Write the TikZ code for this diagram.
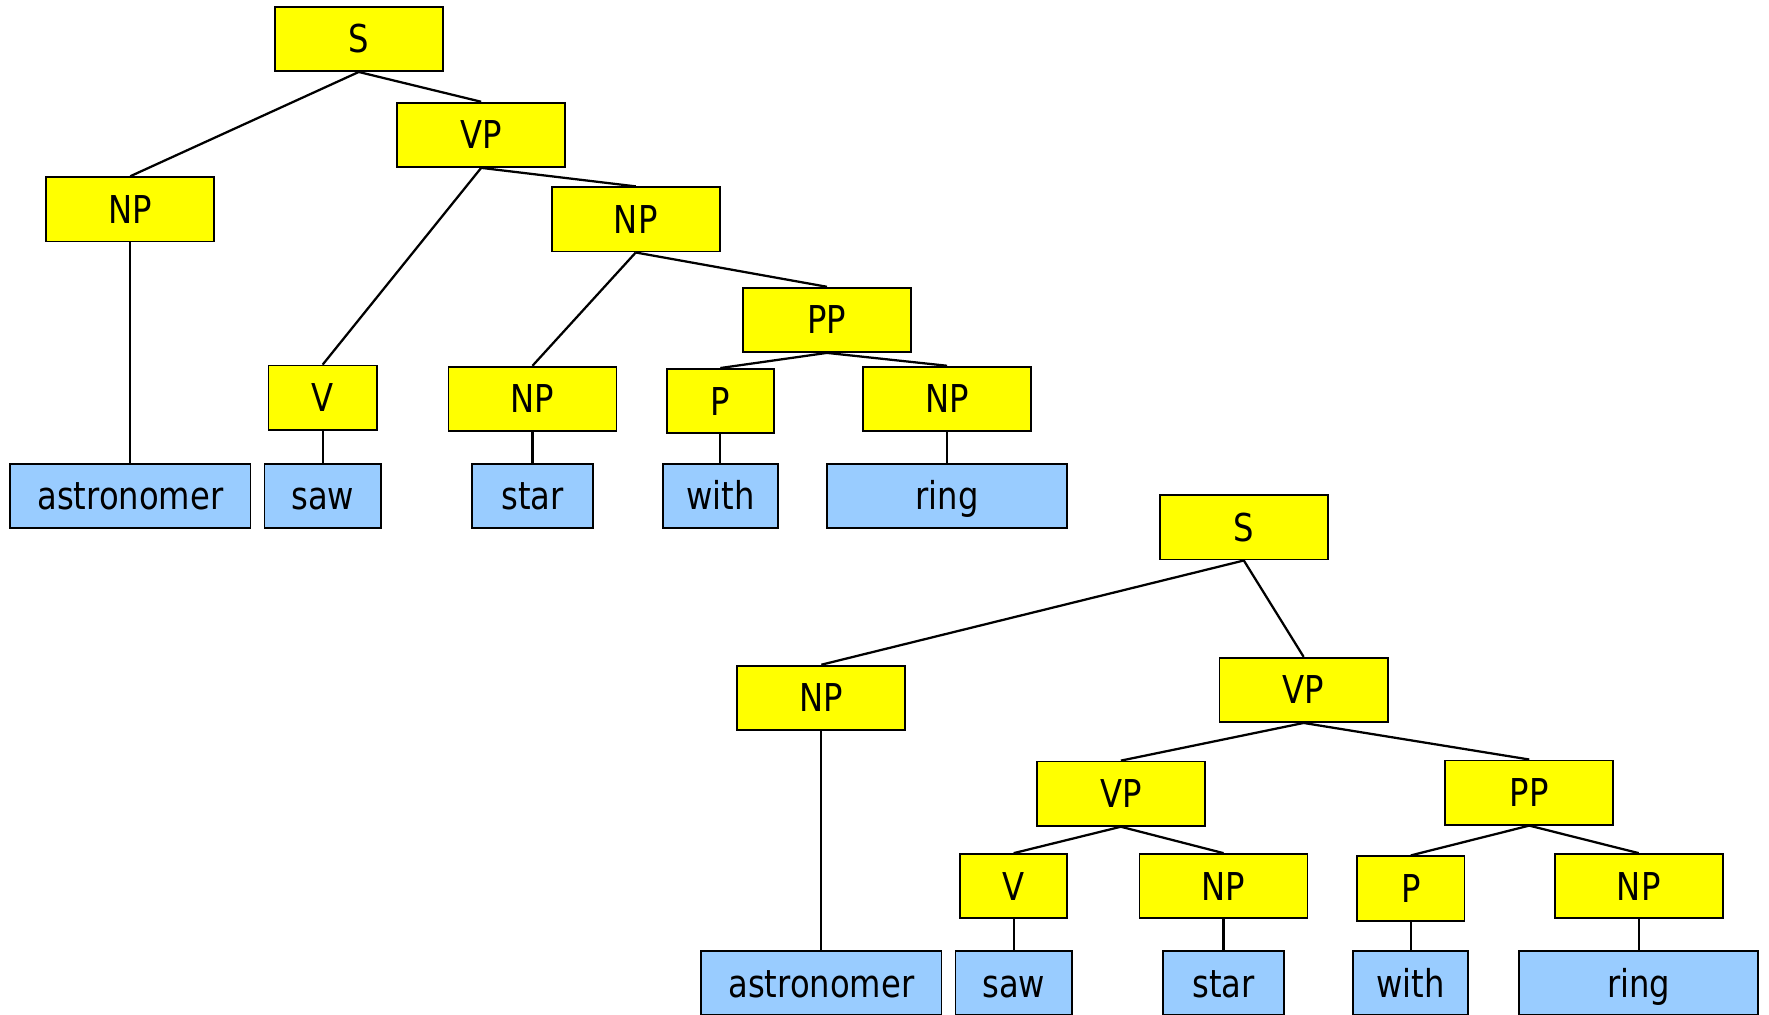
\documentclass[tikz,border=0pt]{standalone}
\usepackage{fontspec}
\setmainfont{DejaVu Sans}[FakeStretch=0.84]
\definecolor{catfill}{HTML}{FFFF00}
\definecolor{wordfill}{HTML}{99CCFF}
\begin{document}
\begin{tikzpicture}[x=1pt,y=-1pt,
  box/.style={draw=black,line width=1.6pt,inner sep=0pt,
    font=\fontsize{34}{40}\selectfont,text height=24.8pt,text depth=0pt,
    minimum height=57pt},
  cat/.style={box,fill=catfill,minimum width=#1},
  cat/.default=149pt,
  word/.style={box,fill=wordfill,minimum width=#1},
  edge/.style={line width=2pt}]
\useasboundingbox (0,0) rectangle (1568,899);

% ---- first analysis: PP attached to the object NP ----
\node[cat] (tS)   at (318,34.5)   {S};
\node[cat] (tVP)  at (426.5,119.5) {VP};
\node[cat] (tNP)  at (115.5,185.5) {NP};
\node[cat] (tNPo) at (563.5,194.5) {NP};
\node[cat] (tPP)  at (733,283.5)   {PP};
\node[cat=96pt] (tV)  at (286,352.5) {V};
\node[cat] (tNPs) at (472,353.5)   {NP};
\node[cat=95pt] (tP)  at (638.5,355.5) {P};
\node[cat] (tNPr) at (839.5,353.5) {NP};

\node[word=213pt] (tw1) at (115.5,439.5) {astronomer};
\node[word=103pt] (tw2) at (286,439.5)   {saw};
\node[word=107pt] (tw3) at (472,439.5)   {star};
\node[word=102pt] (tw4) at (638.5,439.5) {with};
\node[word=213pt] (tw5) at (839.5,439.5) {ring};

\draw[edge] (tS.south) -- (tNP.north);
\draw[edge] (tS.south) -- (tVP.north);
\draw[edge] (tVP.south) -- (tV.north);
\draw[edge] (tVP.south) -- (tNPo.north);
\draw[edge] (tNPo.south) -- (tNPs.north);
\draw[edge] (tNPo.south) -- (tPP.north);
\draw[edge] (tPP.south) -- (tP.north);
\draw[edge] (tPP.south) -- (tNPr.north);
\draw[edge] (tNP.south) -- (tw1.north);
\draw[edge] (tV.south) -- (tw2.north);
\draw[edge] (tNPs.south) -- (tw3.north);
\draw[edge] (tP.south) -- (tw4.north);
\draw[edge] (tNPr.south) -- (tw5.north);

% ---- second analysis: PP attached to the VP ----
\node[cat] (bS)   at (1102.5,467.5) {S};
\node[cat] (bNP)  at (728,618.5)    {NP};
\node[cat] (bVP)  at (1155.5,611.5) {VP};
\node[cat] (bVPi) at (993.5,703.5)  {VP};
\node[cat] (bPP)  at (1355.5,702.5) {PP};
\node[cat=95pt] (bV)  at (898.5,785.5)  {V};
\node[cat] (bNPs) at (1084.5,785.5) {NP};
\node[cat=95pt] (bP)  at (1250.5,787.5) {P};
\node[cat] (bNPr) at (1452.5,785.5) {NP};

\node[word=213pt] (bw1) at (728,871.5)    {astronomer};
\node[word=103pt] (bw2) at (898.5,871.5)  {saw};
\node[word=107pt] (bw3) at (1084.5,871.5) {star};
\node[word=102pt] (bw4) at (1250.5,871.5) {with};
\node[word=212pt] (bw5) at (1452.5,871.5) {ring};

\draw[edge] (bS.south) -- (bNP.north);
\draw[edge] (bS.south) -- (bVP.north);
\draw[edge] (bVP.south) -- (bVPi.north);
\draw[edge] (bVP.south) -- (bPP.north);
\draw[edge] (bVPi.south) -- (bV.north);
\draw[edge] (bVPi.south) -- (bNPs.north);
\draw[edge] (bPP.south) -- (bP.north);
\draw[edge] (bPP.south) -- (bNPr.north);
\draw[edge] (bNP.south) -- (bw1.north);
\draw[edge] (bV.south) -- (bw2.north);
\draw[edge] (bNPs.south) -- (bw3.north);
\draw[edge] (bP.south) -- (bw4.north);
\draw[edge] (bNPr.south) -- (bw5.north);
\end{tikzpicture}
\end{document}
